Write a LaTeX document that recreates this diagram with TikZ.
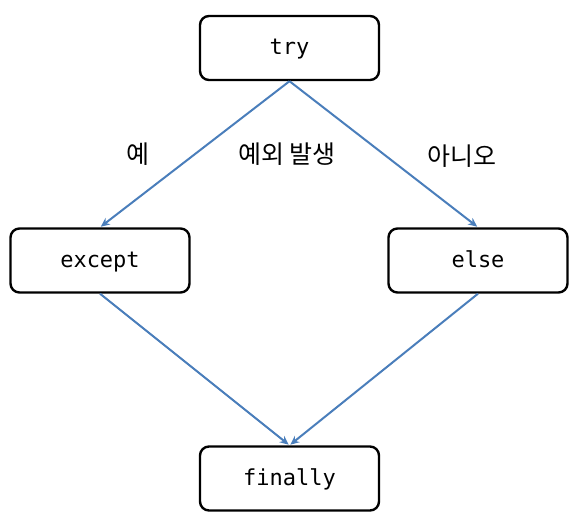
\documentclass[tikz,border=0pt]{standalone}
\usepackage{fontspec}
\setmonofont{DejaVu Sans Mono}
\newfontfamily\kofont{Noto Sans CJK KR}
\usetikzlibrary{positioning,arrows.meta}
\definecolor{flowblue}{HTML}{4A7EBB}

\begin{document}
\begin{tikzpicture}[x=1pt,y=-1pt,>={Stealth[length=9pt,width=8pt]},
  every node/.style={font=\ttfamily\fontsize{22}{26}\selectfont,align=center},
  blk/.style={draw,line width=2.4pt,rounded corners=9pt,
              minimum width=179pt,minimum height=64pt,
              text height=16pt,text depth=3pt},
  flow/.style={->,draw=flowblue,line width=2pt,shorten >=1pt},
  lbl/.style={font=\kofont\fontsize{25}{30}\selectfont}]
\useasboundingbox (0,0) rectangle (581,524);
\node[blk] (try)     at (289.5,48)  {try};
\node[blk] (except)  at (100,260.5) {except};
\node[blk] (else)    at (478,260.5) {else};
\node[blk] (finally) at (289.5,478.5) {finally};

\node[lbl] (yes)   at (138,154) {예};
\node[lbl] (raise) at (287,154) {예외 발생};
\node[lbl] (no)    at (462,156) {아니오};

\draw[flow] (try.south) -- (except.north);
\draw[flow] (try.south) -- (else.north);
\draw[flow] (except.south) -- (finally.north);
\draw[flow] (else.south) -- (finally.north);
\end{tikzpicture}
\end{document}
